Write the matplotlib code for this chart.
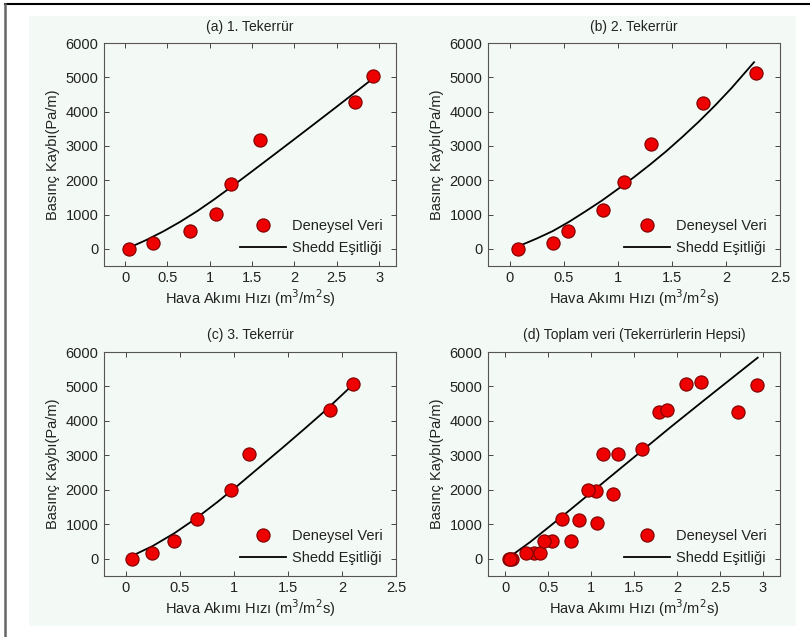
import matplotlib.pyplot as plt
from matplotlib.lines import Line2D
from matplotlib.patches import Rectangle

plt.rcParams['font.family'] = ['Liberation Sans', 'DejaVu Sans']

# deneysel veri, her tekerrür
rep1_x = [0.05, 0.33, 0.77, 1.07, 1.25, 1.59, 2.71, 2.93]
rep1_y = [0, 175, 530, 1030, 1890, 3180, 4270, 5040]
rep2_x = [0.08, 0.40, 0.54, 0.86, 1.06, 1.31, 1.79, 2.28]
rep2_y = [0, 170, 530, 1130, 1960, 3050, 4250, 5120]
rep3_x = [0.06, 0.24, 0.45, 0.66, 0.97, 1.14, 1.89, 2.10]
rep3_y = [0, 170, 530, 1140, 1990, 3030, 4320, 5060]

# Shedd eşitliği eğrileri
fit1_x = [0.07, 0.25, 0.45, 0.65, 0.85, 1.05, 1.25, 1.5, 1.75, 2.0, 2.25,
          2.5, 2.75, 2.93]
fit1_y = [60, 258, 508, 788, 1098, 1438, 1798, 2261, 2728, 3198, 3670,
          4145, 4623, 4970]
fit2_x = [0.10, 0.25, 0.40, 0.55, 0.70, 0.85, 1.00, 1.15, 1.30, 1.45, 1.60,
          1.75, 1.90, 2.05, 2.26]
fit2_y = [100, 300, 520, 790, 1090, 1400, 1740, 2090, 2460, 2850, 3270,
          3710, 4180, 4680, 5440]
fit3_x = [0.07, 0.25, 0.45, 0.65, 0.85, 1.05, 1.25, 1.45, 1.65, 1.85, 2.09]
fit3_y = [100, 370, 740, 1170, 1650, 2160, 2690, 3220, 3760, 4310, 5018]
fit4_x = [0.06, 0.29, 0.68, 0.97, 1.34, 1.60, 1.93, 2.32, 2.71, 2.94]
fit4_y = [70, 484, 1264, 1859, 2618, 3151, 3828, 4608, 5380, 5835]

# toplam veri = tüm tekerrürler
all_x = rep1_x + rep2_x + rep3_x
all_y = rep1_y + rep2_y + rep3_y

titles = ['(a) 1. Tekerrür', '(b) 2. Tekerrür', '(c) 3. Tekerrür',
          '(d) Toplam veri (Tekerrürlerin Hepsi)']
xlims = [(-0.25, 3.2), (-0.2, 2.5), (-0.2, 2.5), (-0.2, 3.2)]
xticks = [[0, 0.5, 1, 1.5, 2, 2.5, 3], [0, 0.5, 1, 1.5, 2, 2.5],
          [0, 0.5, 1, 1.5, 2, 2.5], [0, 0.5, 1, 1.5, 2, 2.5, 3]]
xtick_labels = [['0', '0.5', '1', '1.5', '2', '2.5', '3'],
                ['0', '0.5', '1', '1.5', '2', '2.5'],
                ['0', '0.5', '1', '1.5', '2', '2.5'],
                ['0', '0.5', '1', '1.5', '2', '2.5', '3']]
yticks = [0, 1000, 2000, 3000, 4000, 5000, 6000]

data = [(rep1_x, rep1_y, fit1_x, fit1_y),
        (rep2_x, rep2_y, fit2_x, fit2_y),
        (rep3_x, rep3_y, fit3_x, fit3_y),
        (all_x, all_y, fit4_x, fit4_y)]

W, H = 810, 637
fig = plt.figure(figsize=(W / 100, H / 100), dpi=100)
fig.patch.set_facecolor('white')

# pale panel background and the frame lines
bg = '#f3f9f5'
fig.add_artist(Rectangle((29 / W, 1 - 626 / H), (796 - 29) / W, (626 - 16) / H,
                         transform=fig.transFigure, facecolor=bg,
                         edgecolor='none', zorder=-10))
fig.add_artist(Line2D([5 / W, 1], [1 - 4 / H, 1 - 4 / H], color='black', lw=1.5,
                      transform=fig.transFigure))
fig.add_artist(Line2D([5 / W, 5 / W], [0, 1 - 4 / H], color='#666666', lw=1.8,
                      transform=fig.transFigure))

# axes boxes in pixels: left, right, top, bottom
boxes = [(104, 396, 43, 266), (488, 780, 43, 266),
         (104, 396, 352, 576), (488, 780, 352, 576)]

txt = '#222222'
for i, (l, r, t, b) in enumerate(boxes):
    ax = fig.add_axes([l / W, 1 - b / H, (r - l) / W, (b - t) / H])
    ax.set_facecolor(bg)
    px, py, fx, fy = data[i]
    ax.plot(fx, fy, color='black', lw=1.3, label='Shedd Eşitliği', zorder=2)
    ax.plot(px, py, 'o', ms=9.5, mfc='#ee0000', mec='#7a0000', mew=0.8,
            label='Deneysel Veri', zorder=3)
    ax.set_xlim(*xlims[i])
    ax.set_ylim(-500, 6000)
    ax.set_xticks(xticks[i])
    ax.set_xticklabels(xtick_labels[i])
    ax.set_yticks(yticks)
    ax.tick_params(direction='in', top=True, right=True, length=3.5,
                   width=0.7, colors='#444444', labelcolor=txt, labelsize=10.5)
    ax.tick_params(axis='x', pad=3.5)
    ax.tick_params(axis='y', pad=4)
    for s in ax.spines.values():
        s.set_color('#555555')
        s.set_linewidth(0.8)
    ax.set_title(titles[i], fontsize=10, color=txt, pad=9)
    ax.set_xlabel('Hava Akımı Hızı (m$^3$/m$^2$s)', fontsize=10.5, color=txt,
                  labelpad=2)
    ax.set_ylabel('Basınç Kaybı(Pa/m)', fontsize=10.5, color=txt, labelpad=4)
    h, lab = ax.get_legend_handles_labels()
    ax.legend([h[1], h[0]], [lab[1], lab[0]], loc='lower right',
              bbox_to_anchor=(0.985, 0.008), frameon=False,
              fontsize=10.5, handlelength=3.2, handletextpad=0.4,
              borderaxespad=0.2, labelspacing=0.6,
              labelcolor=txt)

fig.savefig('out.png', dpi=100, facecolor='white')
